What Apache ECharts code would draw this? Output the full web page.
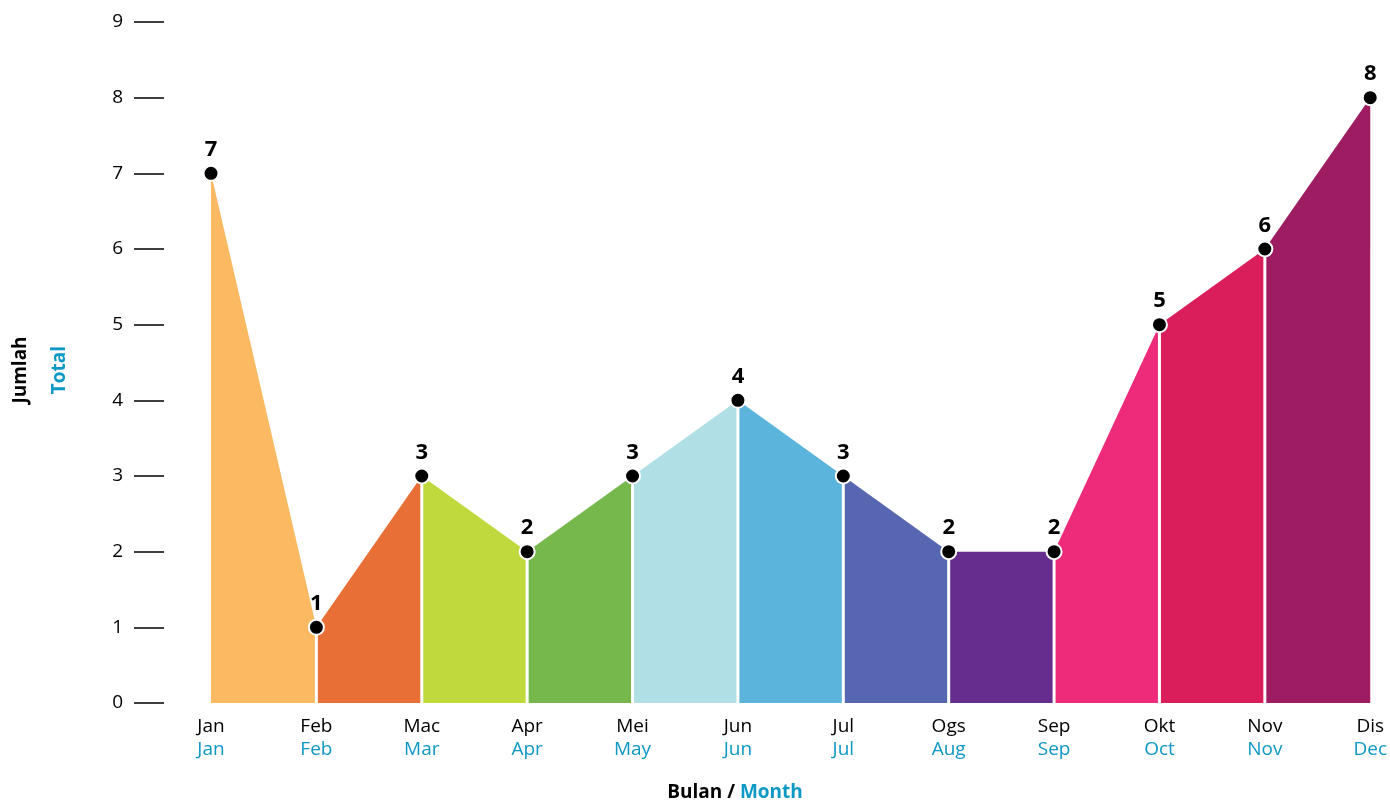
<!DOCTYPE html>
<html><head><meta charset="utf-8">
<script src="https://cdn.jsdelivr.net/npm/echarts@6/dist/echarts.min.js"></script>
<style>html,body{margin:0;padding:0;background:#fff}#c{width:1390px;height:803px}</style>
</head><body><div id="c"></div>
<script>
const monthsMs = ['Jan','Feb','Mac','Apr','Mei','Jun','Jul','Ogs','Sep','Okt','Nov','Dis'];
const monthsEn = ['Jan','Feb','Mar','Apr','May','Jun','Jul','Aug','Sep','Oct','Nov','Dec'];
const values = [7,1,3,2,3,4,3,2,2,5,6,8];
const segColors = ['#FBB962','#E87036','#C0D93C','#76B84C','#B0E0E5','#5AB4DB','#5766B0','#662D8E','#EE2B7A','#DA1D5B','#9E1D62'];
const yTicks = [0,1,2,3,4,5,6,7,8,9];

const FONT = '"Open Sans", "Noto Sans", sans-serif';
const series = [];
for (let i = 0; i < segColors.length; i++) {
  const d = values.map((v, j) => (j === i || j === i + 1) ? v : '-');
  series.push({
    type: 'line', data: d, symbol: 'none', silent: true,
    lineStyle: { width: 0 },
    areaStyle: { color: segColors[i], opacity: 1 },
    z: 1
  });
}
// white separators
series.push({
  type: 'bar', data: values.map((v, j) => (j === 0 || j === values.length - 1) ? '-' : v),
  barWidth: 3, itemStyle: { color: '#fff' }, silent: true, z: 2
});
// points and labels
series.push({
  type: 'line', data: values, symbol: 'circle', symbolSize: 15,
  lineStyle: { width: 0 },
  itemStyle: { color: '#000', borderColor: '#fff', borderWidth: 2 },
  label: { show: true, position: 'top', distance: 4, color: '#000', fontWeight: 'bold', fontSize: 22, fontFamily: FONT },
  z: 5
});

const chart = echarts.init(document.getElementById('c'));
chart.setOption({
  animation: false,
  grid: { left: 211, right: 18, top: 22, bottom: 100 },
  xAxis: {
    type: 'category', data: monthsMs, boundaryGap: false,
    axisLine: { show: false }, axisTick: { show: false },
    axisLabel: {
      margin: 12, interval: 0,
      formatter: (v, i) => '{a|' + v + '}\n{b|' + monthsEn[i] + '}',
      rich: {
        a: { color: '#000', fontSize: 19, fontFamily: FONT, lineHeight: 23 },
        b: { color: '#0E98C4', fontSize: 19, fontFamily: FONT, lineHeight: 23 }
      }
    }
  },
  yAxis: {
    type: 'value', min: 0, max: 9, interval: 1, offset: 47,
    axisLine: { show: false },
    axisTick: { show: true, length: 30, lineStyle: { color: '#000', width: 1.5 } },
    splitLine: { show: false },
    axisLabel: { margin: 41, color: '#000', fontSize: 19, fontFamily: FONT,
      formatter: v => yTicks.includes(v) ? String(v) : '' }
  },
  graphic: [
    { type: 'text', x: 735, y: 793, style: { rich: {
        a: { fill: '#000', fontWeight: 'bold', fontSize: 19, fontFamily: FONT },
        b: { fill: '#0E98C4', fontWeight: 'bold', fontSize: 19, fontFamily: FONT } },
        text: '{a|Bulan / }{b|Month}', textAlign: 'center', textVerticalAlign: 'middle' } },
    { type: 'text', x: 11, y: 370, rotation: Math.PI / 2, style: { text: 'Jumlah', fill: '#000', fontWeight: 'bold', fontSize: 19, fontFamily: FONT, textAlign: 'center', textVerticalAlign: 'top' } },
    { type: 'text', x: 50, y: 370, rotation: Math.PI / 2, style: { text: 'Total', fill: '#0E98C4', fontWeight: 'bold', fontSize: 19, fontFamily: FONT, textAlign: 'center', textVerticalAlign: 'top' } }
  ],
  series
});
</script></body></html>
